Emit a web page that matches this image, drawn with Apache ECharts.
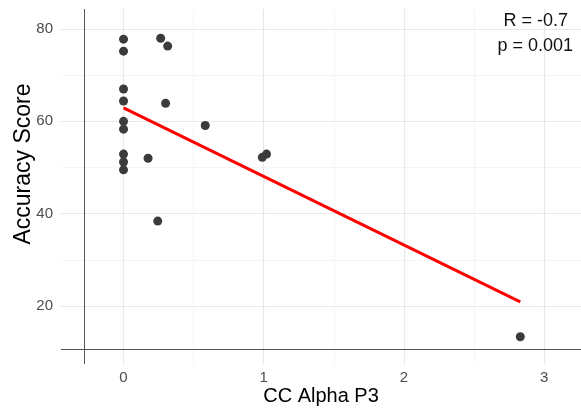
<!DOCTYPE html>
<html>
<head>
<meta charset="utf-8">
<script src="https://cdn.jsdelivr.net/npm/echarts@6/dist/echarts.min.js"></script>
<style>
  html, body { margin: 0; padding: 0; background: #fff; }
  #chart { width: 581px; height: 413px; }
</style>
</head>
<body>
<div id="chart"></div>
<script>
// CC Alpha P3 values and accuracy scores
const ccAlpha = [0, 0, 0, 0, 0, 0, 0, 0, 0, 0.265, 0.315, 0.30, 0.583, 0.175, 0.99, 1.02, 0.244, 2.83];
const accuracy = [77.8, 75.2, 67.0, 64.4, 60.0, 58.3, 52.9, 51.2, 49.5, 78.0, 76.3, 63.9, 59.1, 52.0, 52.2, 52.9, 38.4, 13.35];

// fitted line ends
const fitX = [0, 2.83];
const fitY = [62.9, 20.9];

const xTicks = [0, 1, 2, 3];
const xMinor = [0.5, 1.5, 2.5];
const yTicks = [20, 40, 60, 80];
const yMinor = [30, 50, 70];

const xRange = [-0.446, 3.263];
const yRange = [7.44, 84.33];
const refX = -0.282;
const refY = 10.69;

const statLines = ['R = -0.7', 'p = 0.001'];

const font = '"Liberation Sans", Arial, sans-serif';
const chart = echarts.init(document.getElementById('chart'));

function gridLines(values, dim, major) {
  return values.map(v => ({
    [dim]: v,
    lineStyle: { color: major ? '#e8e8e8' : '#f2f2f2', width: major ? 1.2 : 0.8, type: 'solid' },
    label: major ? {
      show: true,
      position: 'start',
      formatter: String(v),
      color: '#4d4d4d',
      fontSize: 15,
      fontFamily: font,
      distance: dim === 'xAxis' ? 6 : 8
    } : { show: false }
  }));
}

const points = ccAlpha.map((x, i) => [x, accuracy[i]]);
const fit = fitX.map((x, i) => [x, fitY[i]]);

chart.setOption({
  animation: false,
  backgroundColor: '#fff',
  grid: { left: 61, right: 0, top: 9, bottom: 49, containLabel: false, outerBoundsMode: 'none' },
  xAxis: {
    type: 'value',
    min: xRange[0],
    max: xRange[1],
    axisLine: { show: false },
    axisTick: { show: false },
    axisLabel: { show: false },
    splitLine: { show: false }
  },
  yAxis: {
    type: 'value',
    min: yRange[0],
    max: yRange[1],
    axisLine: { show: false },
    axisTick: { show: false },
    axisLabel: { show: false },
    splitLine: { show: false }
  },
  series: [
    {
      type: 'scatter',
      data: [],
      silent: true,
      z: 1,
      markLine: {
        silent: true,
        symbol: 'none',
        animation: false,
        z: 1,
        emphasis: { disabled: true },
        data: [
          ...gridLines(xMinor, 'xAxis', false),
          ...gridLines(yMinor, 'yAxis', false),
          ...gridLines(xTicks, 'xAxis', true),
          ...gridLines(yTicks, 'yAxis', true),
          { xAxis: refX, lineStyle: { color: '#555', width: 1, type: 'solid' }, label: { show: false } },
          { yAxis: refY, lineStyle: { color: '#555', width: 1, type: 'solid' }, label: { show: false } }
        ]
      }
    },
    {
      type: 'line',
      data: fit,
      symbol: 'none',
      z: 3,
      lineStyle: { color: '#ff0000', width: 3 },
      silent: true
    },
    {
      type: 'scatter',
      data: points,
      symbolSize: 9,
      z: 4,
      itemStyle: { color: '#3b3b3b', opacity: 1 },
      silent: true
    }
  ],
  graphic: [
    ...statLines.map((t, i) => ({
      type: 'text',
      x: i === 0 ? 568 : 573,
      y: i === 0 ? 21 : 46,
      z: 10,
      style: { text: t, fill: '#111', fontSize: 18, fontFamily: font, textAlign: 'right', textVerticalAlign: 'middle' }
    })),
    {
      type: 'text',
      x: 321,
      y: 396,
      style: { text: 'CC Alpha P3', fill: '#000', fontSize: 20, fontFamily: font, textAlign: 'center', textVerticalAlign: 'middle' }
    },
    {
      type: 'text',
      x: 24,
      y: 164,
      rotation: Math.PI / 2,
      style: { text: 'Accuracy Score', fill: '#000', fontSize: 23, fontFamily: font, textAlign: 'center', textVerticalAlign: 'middle' }
    }
  ]
});
</script>
</body>
</html>
